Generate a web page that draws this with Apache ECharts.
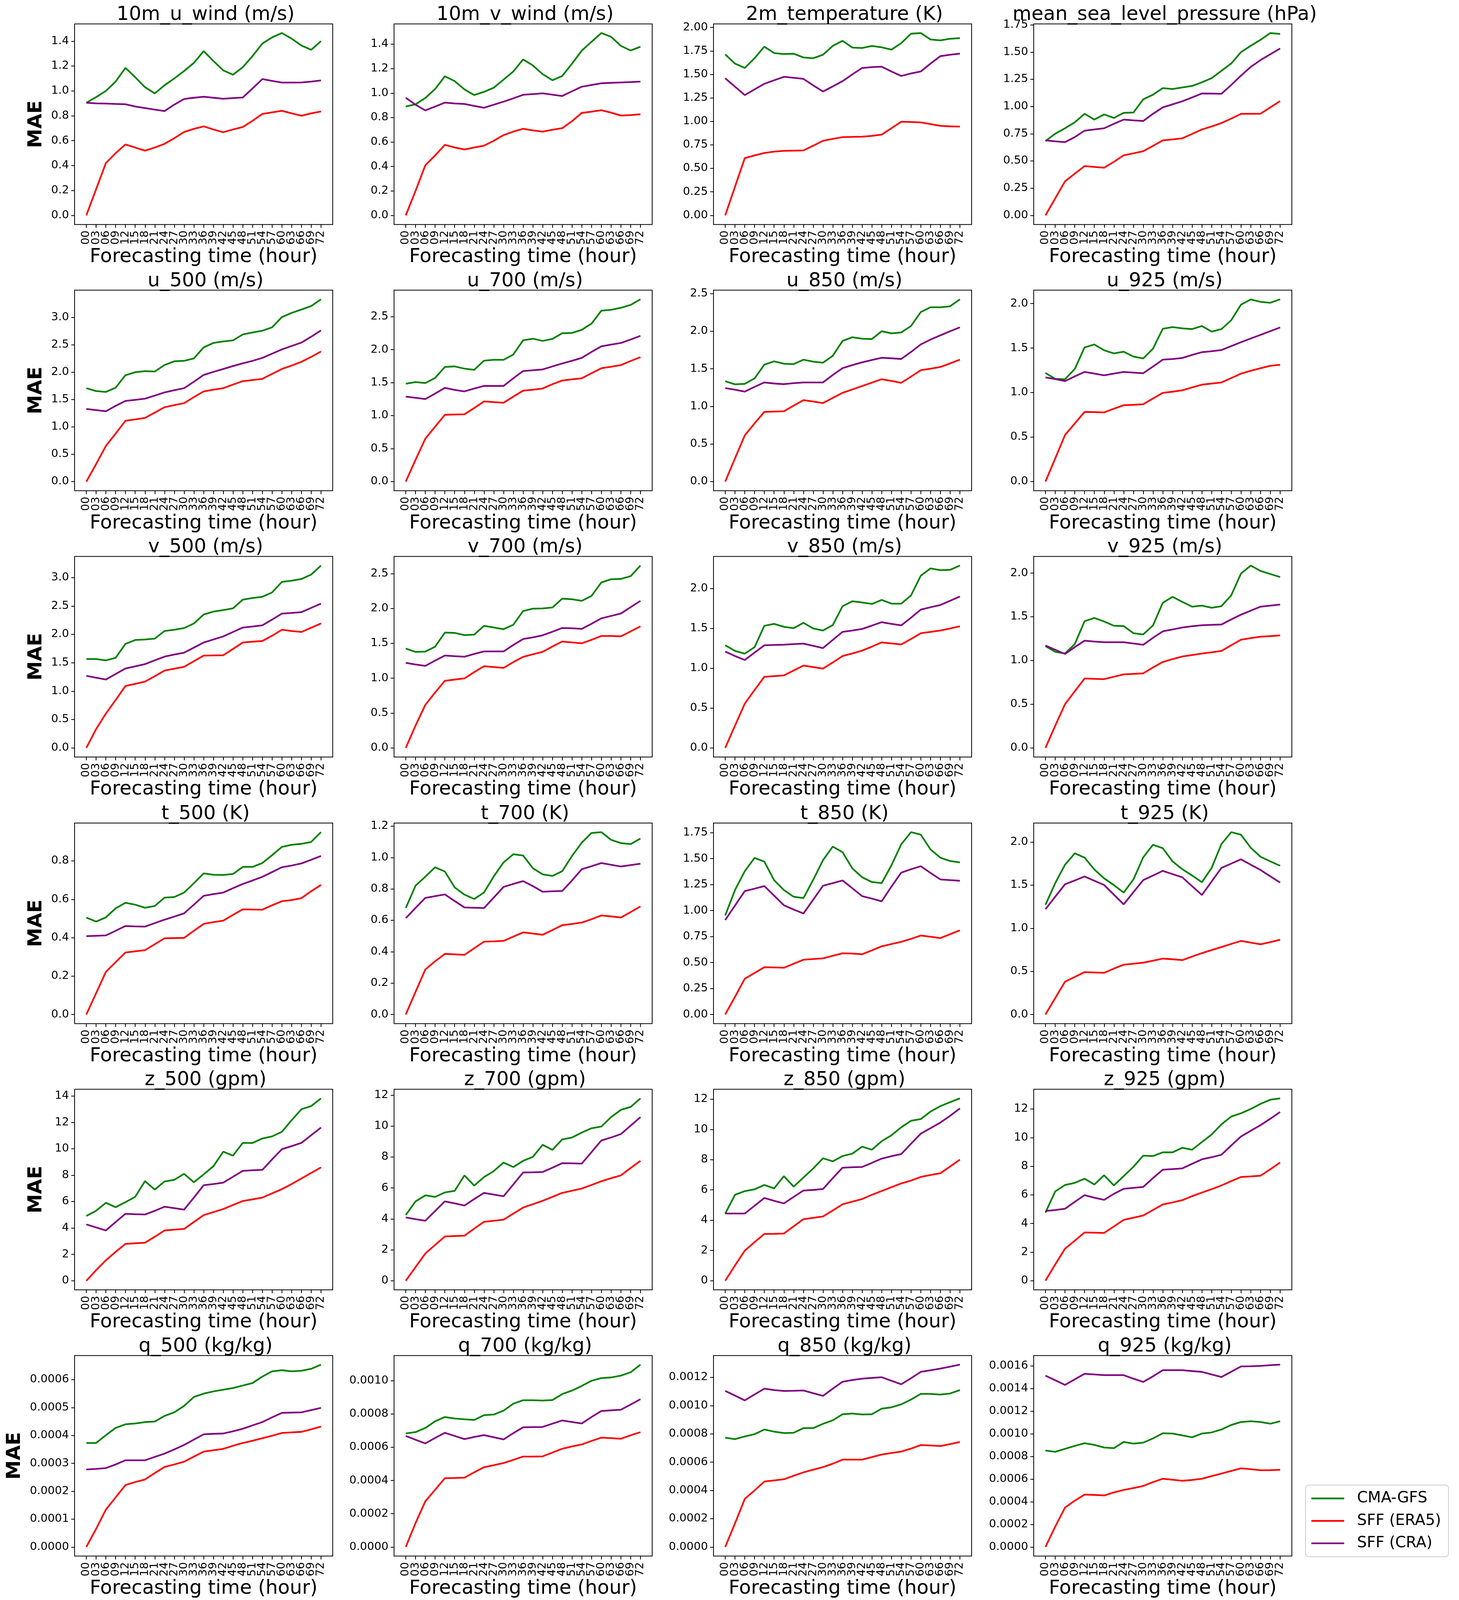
<!DOCTYPE html>
<html><head><meta charset="utf-8">
<script src="https://cdn.jsdelivr.net/npm/echarts@6/dist/echarts.min.js"></script>
<style>html,body{margin:0;padding:0;background:#fff;overflow:hidden}#c{width:100vw;height:100vh}</style>
</head><body><div id="c"></div><script>
const hours = ['00','03','06','09','12','15','18','21','24','27','30','33','36','39','42','45','48','51','54','57','60','63','66','69','72'];
const seriesNames = ['CMA-GFS','SFF (ERA5)','SFF (CRA)'];
const panelTitles = ['10m_u_wind (m/s)','10m_v_wind (m/s)','2m_temperature (K)','mean_sea_level_pressure (hPa)',
 'u_500 (m/s)','u_700 (m/s)','u_850 (m/s)','u_925 (m/s)',
 'v_500 (m/s)','v_700 (m/s)','v_850 (m/s)','v_925 (m/s)',
 't_500 (K)','t_700 (K)','t_850 (K)','t_925 (K)',
 'z_500 (gpm)','z_700 (gpm)','z_850 (gpm)','z_925 (gpm)',
 'q_500 (kg/kg)','q_700 (kg/kg)','q_850 (kg/kg)','q_925 (kg/kg)'];

const u10_cma = [0.905,0.95,1.0,1.075,1.185,1.11,1.03,0.98,1.045,1.10,1.16,1.225,1.32,1.24,1.165,1.13,1.19,1.28,1.38,1.43,1.465,1.42,1.365,1.33,1.40];
const u10_era5 = [0,0.21,0.42,0.50,0.57,0.545,0.52,0.545,0.575,0.62,0.67,0.695,0.715,0.69,0.668,0.69,0.71,0.76,0.815,0.828,0.84,0.82,0.80,0.82,0.835];
const u10_cra = [0.905,0.90,0.898,0.895,0.893,0.875,0.862,0.85,0.838,0.89,0.935,0.945,0.953,0.945,0.937,0.942,0.947,1.02,1.095,1.08,1.067,1.067,1.068,1.075,1.084];

const v10_cma = [0.89,0.908,0.96,1.033,1.137,1.098,1.03,0.984,1.01,1.044,1.11,1.177,1.275,1.226,1.155,1.105,1.14,1.24,1.347,1.42,1.491,1.46,1.386,1.348,1.379];
const v10_era5 = [0,0.2,0.41,0.49,0.577,0.555,0.539,0.555,0.57,0.61,0.656,0.685,0.708,0.695,0.684,0.70,0.713,0.77,0.838,0.848,0.86,0.84,0.816,0.82,0.827];
const v10_cra = [0.962,0.905,0.858,0.89,0.922,0.915,0.911,0.895,0.88,0.905,0.93,0.957,0.986,0.992,0.998,0.987,0.976,1.015,1.052,1.066,1.08,1.084,1.087,1.09,1.094];

const t2m_cma = [1.712,1.615,1.568,1.672,1.795,1.727,1.716,1.72,1.68,1.672,1.709,1.803,1.857,1.785,1.781,1.803,1.788,1.763,1.832,1.933,1.94,1.871,1.862,1.879,1.886];
const t2m_era5 = [0,0.305,0.609,0.638,0.664,0.678,0.687,0.689,0.691,0.741,0.794,0.814,0.832,0.835,0.837,0.846,0.859,0.927,0.996,0.993,0.989,0.971,0.953,0.947,0.944];
const t2m_cra = [1.459,1.369,1.28,1.34,1.40,1.437,1.474,1.464,1.452,1.383,1.318,1.372,1.428,1.50,1.568,1.577,1.582,1.531,1.483,1.51,1.531,1.615,1.694,1.709,1.721];

const msl_cma = [0.683,0.75,0.80,0.855,0.933,0.88,0.927,0.895,0.942,0.945,1.066,1.108,1.169,1.161,1.175,1.189,1.222,1.261,1.328,1.395,1.50,1.558,1.613,1.675,1.667];
const msl_era5 = [0,0.156,0.3125,0.383,0.453,0.445,0.4375,0.492,0.552,0.57,0.589,0.639,0.689,0.698,0.708,0.748,0.789,0.817,0.848,0.889,0.933,0.933,0.934,0.992,1.05];
const msl_cra = [0.689,0.68,0.673,0.719,0.778,0.789,0.80,0.841,0.88,0.873,0.867,0.933,0.992,1.02,1.048,1.083,1.12,1.119,1.117,1.198,1.284,1.364,1.427,1.48,1.533];

const u500_cma = [1.708,1.655,1.64,1.717,1.944,2.0,2.019,2.013,2.131,2.199,2.208,2.252,2.454,2.535,2.562,2.581,2.69,2.727,2.758,2.82,3.007,3.084,3.146,3.209,3.333];
const u500_era5 = [0,0.32,0.652,0.879,1.112,1.137,1.165,1.261,1.36,1.398,1.435,1.544,1.649,1.68,1.708,1.774,1.836,1.857,1.879,1.969,2.059,2.121,2.19,2.28,2.379];
const u500_cra = [1.329,1.308,1.286,1.385,1.475,1.494,1.516,1.572,1.631,1.671,1.708,1.826,1.95,2.006,2.059,2.112,2.162,2.208,2.261,2.339,2.416,2.479,2.541,2.649,2.764];

const u700_cma = [1.483,1.509,1.494,1.571,1.738,1.746,1.712,1.694,1.833,1.846,1.846,1.926,2.142,2.166,2.132,2.163,2.248,2.253,2.30,2.395,2.59,2.603,2.634,2.678,2.763];
const u700_era5 = [0,0.33,0.651,0.832,1.012,1.017,1.02,1.115,1.215,1.205,1.195,1.288,1.378,1.393,1.411,1.476,1.532,1.55,1.566,1.643,1.718,1.741,1.766,1.828,1.887];
const u700_cra = [1.288,1.27,1.251,1.334,1.421,1.39,1.367,1.411,1.45,1.45,1.45,1.566,1.676,1.687,1.70,1.746,1.79,1.831,1.875,1.965,2.05,2.076,2.101,2.153,2.209];

const u850_cma = [1.335,1.294,1.301,1.373,1.556,1.6,1.568,1.563,1.622,1.595,1.581,1.674,1.871,1.92,1.90,1.896,2.0,1.972,1.984,2.07,2.255,2.319,2.319,2.332,2.425];
const u850_era5 = [0,0.31,0.615,0.774,0.927,0.932,0.936,1.011,1.083,1.065,1.045,1.113,1.181,1.226,1.271,1.317,1.362,1.339,1.314,1.396,1.482,1.502,1.525,1.572,1.622];
const u850_cra = [1.244,1.222,1.197,1.26,1.319,1.305,1.296,1.31,1.319,1.319,1.319,1.418,1.509,1.55,1.586,1.617,1.647,1.64,1.631,1.724,1.825,1.889,1.945,2.0,2.052];

const u925_cma = [1.22,1.154,1.15,1.265,1.507,1.541,1.475,1.44,1.459,1.404,1.383,1.494,1.717,1.736,1.721,1.713,1.748,1.685,1.713,1.813,1.988,2.046,2.019,2.009,2.048];
const u925_era5 = [0,0.26,0.523,0.653,0.783,0.781,0.777,0.819,0.858,0.863,0.869,0.934,0.997,1.01,1.026,1.058,1.089,1.102,1.114,1.163,1.213,1.245,1.274,1.301,1.312];
const u925_cra = [1.171,1.152,1.129,1.182,1.232,1.213,1.194,1.213,1.232,1.224,1.217,1.293,1.37,1.377,1.389,1.423,1.454,1.465,1.478,1.522,1.566,1.608,1.648,1.69,1.732];

const v500_cma = [1.566,1.566,1.542,1.587,1.832,1.901,1.91,1.925,2.06,2.081,2.111,2.192,2.35,2.401,2.428,2.458,2.611,2.641,2.662,2.739,2.925,2.946,2.976,3.054,3.213];
const v500_era5 = [0,0.33,0.605,0.844,1.09,1.129,1.168,1.263,1.362,1.395,1.428,1.527,1.626,1.629,1.632,1.743,1.856,1.871,1.883,1.976,2.081,2.06,2.042,2.117,2.192];
const v500_cra = [1.269,1.236,1.204,1.302,1.398,1.437,1.476,1.542,1.608,1.644,1.677,1.766,1.856,1.91,1.964,2.042,2.12,2.138,2.159,2.26,2.365,2.377,2.392,2.467,2.542];

const v700_cma = [1.426,1.377,1.382,1.452,1.655,1.65,1.618,1.626,1.752,1.728,1.703,1.767,1.964,1.998,2.001,2.015,2.142,2.133,2.11,2.181,2.374,2.42,2.425,2.464,2.617];
const v700_era5 = [0,0.32,0.617,0.794,0.963,0.98,0.997,1.087,1.172,1.16,1.148,1.231,1.306,1.343,1.379,1.455,1.526,1.513,1.501,1.55,1.606,1.606,1.601,1.672,1.745];
const v700_cra = [1.221,1.197,1.177,1.253,1.326,1.316,1.309,1.348,1.384,1.384,1.384,1.477,1.562,1.586,1.616,1.667,1.721,1.716,1.708,1.781,1.859,1.894,1.928,2.02,2.11];

const v850_cma = [1.289,1.218,1.184,1.265,1.534,1.558,1.521,1.504,1.571,1.50,1.475,1.543,1.78,1.842,1.827,1.808,1.859,1.812,1.812,1.915,2.163,2.255,2.233,2.237,2.291];
const v850_era5 = [0,0.28,0.556,0.727,0.893,0.902,0.91,0.972,1.034,1.015,0.996,1.073,1.154,1.186,1.222,1.272,1.325,1.312,1.299,1.368,1.44,1.457,1.475,1.50,1.528];
const v850_cra = [1.21,1.154,1.105,1.197,1.289,1.293,1.297,1.304,1.31,1.282,1.254,1.357,1.457,1.475,1.494,1.536,1.579,1.558,1.539,1.635,1.737,1.767,1.795,1.848,1.902];

const v925_cma = [1.164,1.10,1.081,1.188,1.45,1.487,1.447,1.398,1.394,1.312,1.299,1.402,1.661,1.729,1.671,1.616,1.628,1.604,1.622,1.746,1.996,2.087,2.025,1.99,1.955];
const v925_era5 = [0,0.253,0.50,0.648,0.794,0.79,0.787,0.814,0.841,0.847,0.853,0.921,0.983,1.016,1.046,1.063,1.079,1.094,1.11,1.174,1.238,1.256,1.273,1.279,1.287];
const v925_cra = [1.172,1.123,1.075,1.153,1.227,1.217,1.209,1.209,1.209,1.195,1.18,1.26,1.334,1.355,1.378,1.392,1.404,1.408,1.412,1.47,1.525,1.571,1.616,1.628,1.641];

const t500_cma = [0.505,0.484,0.506,0.553,0.582,0.572,0.556,0.565,0.609,0.612,0.635,0.684,0.735,0.728,0.727,0.732,0.769,0.769,0.789,0.83,0.873,0.884,0.889,0.899,0.95];
const t500_era5 = [0,0.111,0.222,0.273,0.323,0.329,0.335,0.366,0.397,0.398,0.399,0.436,0.472,0.481,0.489,0.519,0.548,0.547,0.546,0.569,0.59,0.596,0.606,0.642,0.675];
const t500_cra = [0.408,0.41,0.412,0.436,0.461,0.459,0.458,0.476,0.494,0.51,0.527,0.572,0.618,0.627,0.635,0.658,0.68,0.698,0.717,0.742,0.767,0.776,0.787,0.806,0.826];

const t700_cma = [0.678,0.821,0.878,0.938,0.911,0.81,0.764,0.736,0.777,0.88,0.969,1.021,1.013,0.932,0.893,0.883,0.913,1.01,1.095,1.157,1.162,1.113,1.092,1.086,1.121];
const t700_era5 = [0,0.144,0.287,0.339,0.386,0.383,0.38,0.422,0.464,0.466,0.469,0.496,0.523,0.516,0.508,0.538,0.569,0.577,0.586,0.607,0.631,0.625,0.618,0.653,0.689];
const t700_cra = [0.614,0.679,0.743,0.754,0.765,0.723,0.682,0.68,0.678,0.745,0.813,0.832,0.85,0.818,0.782,0.785,0.787,0.854,0.926,0.945,0.965,0.954,0.943,0.952,0.961];

const t850_cma = [0.953,1.198,1.379,1.507,1.471,1.293,1.198,1.133,1.12,1.296,1.485,1.616,1.562,1.406,1.321,1.275,1.264,1.436,1.637,1.755,1.731,1.588,1.509,1.477,1.463];
const t850_era5 = [0,0.17,0.344,0.399,0.455,0.453,0.45,0.488,0.527,0.534,0.54,0.565,0.589,0.586,0.58,0.617,0.656,0.678,0.699,0.728,0.76,0.748,0.735,0.773,0.81];
const t850_cra = [0.909,1.048,1.188,1.211,1.236,1.144,1.051,1.01,0.972,1.105,1.239,1.264,1.29,1.215,1.139,1.115,1.089,1.231,1.365,1.398,1.427,1.362,1.30,1.293,1.287];

const t925_cma = [1.271,1.523,1.736,1.868,1.819,1.681,1.578,1.50,1.413,1.566,1.822,1.968,1.927,1.775,1.684,1.611,1.533,1.70,1.976,2.114,2.084,1.933,1.828,1.775,1.724];
const t925_era5 = [0,0.19,0.38,0.435,0.491,0.487,0.483,0.532,0.577,0.589,0.601,0.624,0.648,0.64,0.63,0.672,0.711,0.747,0.782,0.818,0.853,0.833,0.814,0.839,0.867];
const t925_cra = [1.221,1.365,1.509,1.554,1.60,1.55,1.501,1.389,1.277,1.418,1.558,1.611,1.665,1.627,1.59,1.487,1.385,1.542,1.70,1.749,1.799,1.736,1.675,1.602,1.529];

const z500_cma = [4.91,5.30,5.91,5.57,5.95,6.36,7.55,6.91,7.52,7.65,8.10,7.46,8.06,8.68,9.78,9.48,10.45,10.44,10.78,10.94,11.29,12.17,13.0,13.24,13.82];
const z500_era5 = [0,0.8,1.55,2.19,2.79,2.84,2.88,3.33,3.81,3.87,3.93,4.45,4.97,5.20,5.43,5.74,6.04,6.17,6.30,6.62,6.94,7.33,7.75,8.17,8.59];
const z500_cra = [4.27,4.04,3.81,4.45,5.07,5.04,5.02,5.30,5.61,5.50,5.39,6.30,7.24,7.33,7.43,7.88,8.33,8.37,8.40,9.20,9.97,10.20,10.45,11.03,11.61];

const z700_cma = [4.25,5.13,5.52,5.42,5.71,5.81,6.81,6.15,6.70,7.09,7.64,7.35,7.75,8.01,8.79,8.46,9.14,9.26,9.58,9.86,9.97,10.58,11.05,11.24,11.79];
const z700_era5 = [0,0.88,1.76,2.31,2.86,2.89,2.91,3.37,3.81,3.88,3.95,4.34,4.73,4.95,5.17,5.42,5.68,5.82,5.96,6.19,6.43,6.63,6.81,7.29,7.75];
const z700_cra = [4.09,3.98,3.88,4.51,5.13,5.0,4.86,5.28,5.68,5.57,5.46,6.23,7.0,7.01,7.03,7.31,7.60,7.59,7.57,8.32,9.07,9.26,9.48,10.03,10.58];

const z850_cma = [4.44,5.68,5.92,6.04,6.33,6.10,6.91,6.22,6.82,7.42,8.09,7.89,8.24,8.40,8.86,8.66,9.22,9.61,10.14,10.57,10.68,11.18,11.54,11.80,12.05];
const z850_era5 = [0,1.01,1.99,2.55,3.09,3.10,3.12,3.60,4.07,4.16,4.25,4.64,5.05,5.23,5.40,5.68,5.93,6.18,6.43,6.62,6.86,6.99,7.10,7.55,8.0];
const z850_cra = [4.44,4.44,4.44,4.95,5.47,5.28,5.11,5.54,5.96,6.0,6.06,6.78,7.47,7.50,7.52,7.79,8.07,8.23,8.37,9.05,9.72,10.08,10.45,10.90,11.39];

const z925_cma = [4.76,6.24,6.69,6.84,7.13,6.72,7.37,6.66,7.31,7.96,8.74,8.71,8.97,8.97,9.29,9.15,9.69,10.22,10.93,11.47,11.70,12.0,12.36,12.65,12.74];
const z925_era5 = [0,1.14,2.24,2.80,3.37,3.36,3.34,3.79,4.25,4.40,4.56,4.94,5.33,5.47,5.63,5.91,6.16,6.40,6.66,6.96,7.25,7.29,7.34,7.79,8.26];
const z925_cra = [4.87,4.94,5.03,5.51,5.98,5.80,5.65,6.07,6.42,6.49,6.55,7.17,7.76,7.80,7.85,8.17,8.48,8.63,8.80,9.45,10.08,10.48,10.87,11.32,11.79];

const q500_cma = [3.73e-4,3.73e-4,4.01e-4,4.27e-4,4.40e-4,4.43e-4,4.48e-4,4.50e-4,4.70e-4,4.83e-4,5.06e-4,5.38e-4,5.50e-4,5.58e-4,5.64e-4,5.70e-4,5.79e-4,5.88e-4,6.11e-4,6.30e-4,6.34e-4,6.30e-4,6.32e-4,6.39e-4,6.54e-4];
const q500_era5 = [0,0.65e-4,1.34e-4,1.78e-4,2.22e-4,2.33e-4,2.42e-4,2.65e-4,2.87e-4,2.96e-4,3.06e-4,3.24e-4,3.42e-4,3.47e-4,3.52e-4,3.63e-4,3.73e-4,3.81e-4,3.90e-4,3.99e-4,4.09e-4,4.11e-4,4.13e-4,4.22e-4,4.32e-4];
const q500_cra = [2.78e-4,2.80e-4,2.83e-4,2.96e-4,3.11e-4,3.11e-4,3.11e-4,3.23e-4,3.35e-4,3.50e-4,3.66e-4,3.85e-4,4.04e-4,4.06e-4,4.07e-4,4.15e-4,4.24e-4,4.36e-4,4.48e-4,4.65e-4,4.81e-4,4.82e-4,4.83e-4,4.91e-4,4.99e-4];

const q700_cma = [6.83e-4,6.91e-4,7.16e-4,7.56e-4,7.82e-4,7.73e-4,7.68e-4,7.64e-4,7.93e-4,7.97e-4,8.20e-4,8.62e-4,8.83e-4,8.83e-4,8.81e-4,8.84e-4,9.20e-4,9.41e-4,9.69e-4,10.00e-4,10.16e-4,10.20e-4,10.31e-4,10.51e-4,10.97e-4];
const q700_era5 = [0,1.44e-4,2.75e-4,3.44e-4,4.14e-4,4.15e-4,4.17e-4,4.49e-4,4.80e-4,4.92e-4,5.05e-4,5.24e-4,5.44e-4,5.44e-4,5.45e-4,5.68e-4,5.91e-4,6.05e-4,6.17e-4,6.38e-4,6.58e-4,6.55e-4,6.51e-4,6.72e-4,6.91e-4];
const q700_cra = [6.68e-4,6.45e-4,6.23e-4,6.56e-4,6.87e-4,6.68e-4,6.49e-4,6.62e-4,6.73e-4,6.60e-4,6.47e-4,6.85e-4,7.20e-4,7.21e-4,7.22e-4,7.42e-4,7.61e-4,7.52e-4,7.43e-4,7.82e-4,8.18e-4,8.22e-4,8.26e-4,8.57e-4,8.89e-4];

const q850_cma = [7.73e-4,7.63e-4,7.82e-4,7.98e-4,8.31e-4,8.16e-4,8.06e-4,8.08e-4,8.41e-4,8.41e-4,8.71e-4,8.96e-4,9.39e-4,9.44e-4,9.37e-4,9.39e-4,9.79e-4,9.88e-4,10.09e-4,10.43e-4,10.83e-4,10.83e-4,10.78e-4,10.86e-4,11.10e-4];
const q850_era5 = [0,1.67e-4,3.40e-4,4.00e-4,4.63e-4,4.71e-4,4.79e-4,5.04e-4,5.28e-4,5.47e-4,5.65e-4,5.89e-4,6.18e-4,6.18e-4,6.18e-4,6.36e-4,6.54e-4,6.65e-4,6.75e-4,6.96e-4,7.21e-4,7.18e-4,7.14e-4,7.28e-4,7.43e-4];
const q850_cra = [11.04e-4,10.71e-4,10.37e-4,10.79e-4,11.20e-4,11.10e-4,11.04e-4,11.05e-4,11.07e-4,10.88e-4,10.69e-4,11.20e-4,11.69e-4,11.81e-4,11.91e-4,11.96e-4,12.01e-4,11.76e-4,11.51e-4,11.94e-4,12.39e-4,12.50e-4,12.62e-4,12.76e-4,12.90e-4];

const q925_cma = [8.52e-4,8.41e-4,8.67e-4,8.93e-4,9.17e-4,9.02e-4,8.79e-4,8.73e-4,9.28e-4,9.13e-4,9.22e-4,9.59e-4,10.05e-4,10.02e-4,9.86e-4,9.69e-4,10.02e-4,10.12e-4,10.38e-4,10.78e-4,11.04e-4,11.11e-4,11.04e-4,10.89e-4,11.11e-4];
const q925_era5 = [0,1.80e-4,3.48e-4,4.09e-4,4.63e-4,4.60e-4,4.55e-4,4.82e-4,5.04e-4,5.21e-4,5.39e-4,5.73e-4,6.03e-4,5.94e-4,5.85e-4,5.92e-4,6.03e-4,6.26e-4,6.49e-4,6.72e-4,6.95e-4,6.87e-4,6.78e-4,6.79e-4,6.82e-4];
const q925_cra = [15.14e-4,14.73e-4,14.32e-4,14.81e-4,15.30e-4,15.24e-4,15.18e-4,15.18e-4,15.18e-4,14.87e-4,14.58e-4,15.08e-4,15.62e-4,15.62e-4,15.62e-4,15.54e-4,15.47e-4,15.24e-4,15.02e-4,15.48e-4,15.95e-4,15.97e-4,16.00e-4,16.06e-4,16.11e-4];

const yTickSteps = [0.2,0.2,0.25,0.25, 0.5,0.5,0.5,0.5, 0.5,0.5,0.5,0.5, 0.2,0.2,0.25,0.5, 2,2,2,2, 0.0001,0.0002,0.0002,0.0002];
const yTickDecimals = [1,1,2,2, 1,1,1,1, 1,1,1,1, 1,1,2,1, 0,0,0,0, 4,4,4,4];

const panelData = [
 [u10_cma,u10_era5,u10_cra],[v10_cma,v10_era5,v10_cra],[t2m_cma,t2m_era5,t2m_cra],[msl_cma,msl_era5,msl_cra],
 [u500_cma,u500_era5,u500_cra],[u700_cma,u700_era5,u700_cra],[u850_cma,u850_era5,u850_cra],[u925_cma,u925_era5,u925_cra],
 [v500_cma,v500_era5,v500_cra],[v700_cma,v700_era5,v700_cra],[v850_cma,v850_era5,v850_cra],[v925_cma,v925_era5,v925_cra],
 [t500_cma,t500_era5,t500_cra],[t700_cma,t700_era5,t700_cra],[t850_cma,t850_era5,t850_cra],[t925_cma,t925_era5,t925_cra],
 [z500_cma,z500_era5,z500_cra],[z700_cma,z700_era5,z700_cra],[z850_cma,z850_era5,z850_cra],[z925_cma,z925_era5,z925_cra],
 [q500_cma,q500_era5,q500_cra],[q700_cma,q700_era5,q700_cra],[q850_cma,q850_era5,q850_cra],[q925_cma,q925_era5,q925_cra]
];

// ---- layout / style (designed for 3736 x 4483, scaled to the actual viewport) ----
const FONT = 'DejaVu Sans';
const COLORS = ['green','red','purple'];
const vw = window.innerWidth || 3736, vh = window.innerHeight || 4483;
const sx = vw/3736, sy = vh/4483, sf = Math.sqrt(sx*sy);
const X = v=>v*sx, Y = v=>v*sy, F = v=>v*sf;
const COL_LEFT = [191,1009,1827,2647];
const ROW_TOP = [67,813,1559,2306,3052,3798];
const GW = 661, GH = 562;
const XMIN = -1.2, XMAX = 25.2;

const chart = echarts.init(document.getElementById('c'), null, {renderer:'canvas', width:vw, height:vh});
const grids=[], xAxes=[], yAxes=[], series=[], titles=[];
const xTickIdx = hours.map((h,i)=>i);
// blank guard labels at the axis ends keep the first/last real labels from being dropped
const xLabelVals = [XMIN].concat(xTickIdx, [XMAX]);

panelData.forEach((sets,k)=>{
  const r = Math.floor(k/4), c = k%4;
  const left = COL_LEFT[c], top = ROW_TOP[r];
  grids.push({left:X(left), top:Y(top), width:X(GW), height:Y(GH), show:true, borderColor:'#000', borderWidth:2, backgroundColor:'transparent', containLabel:false});
  let lo = Infinity, hi = -Infinity;
  sets.forEach(a=>a.forEach(v=>{lo=Math.min(lo,v);hi=Math.max(hi,v);}));
  const span = hi-lo;
  const ymin = lo-0.05*span, ymax = hi+0.05*span;
  const step = yTickSteps[k], dec = yTickDecimals[k];
  const yt = [];
  for (let n=Math.ceil(ymin/step-1e-9); n*step<=ymax+1e-12; n++) yt.push(+(n*step).toFixed(8));
  titles.push({text:panelTitles[k], left:X(left+GW/2), top:Y(top-58), textAlign:'center',
    textStyle:{fontFamily:FONT,fontSize:F(52),fontWeight:'normal',color:'#000'}});
  xAxes.push({type:'value', gridIndex:k, min:XMIN, max:XMAX, position:'bottom',
    name:'Forecasting time (hour)', nameLocation:'middle', nameGap:Y(64), nameMoveOverlap:false,
    nameTextStyle:{fontFamily:FONT,fontSize:F(52),color:'#000'},
    axisLine:{show:false, onZero:false}, splitLine:{show:false},
    axisTick:{show:true, length:F(9), lineStyle:{color:'#000',width:2}, customValues:xTickIdx},
    axisLabel:{show:true, rotate:90, margin:F(16), fontFamily:FONT, fontSize:F(30), lineHeight:X(20), color:'#000',
      showMinLabel:true, showMaxLabel:true, hideOverlap:false,
      customValues:xLabelVals, formatter:(v)=>{const i=Math.round(v); return (Math.abs(v-i)<1e-6 && hours[i]) ? hours[i] : ' ';}}
  });
  yAxes.push({type:'value', gridIndex:k, min:ymin, max:ymax, position:'left',
    name: c===0 ? 'MAE' : '', nameLocation:'middle', nameRotate:90, nameGap: X(r===5 ? 128 : 73), nameMoveOverlap:false,
    nameTextStyle:{fontFamily:FONT,fontSize:F(52),fontWeight:'bold',color:'#000'},
    axisLine:{show:false, onZero:false}, splitLine:{show:false},
    axisTick:{show:true, length:F(9), lineStyle:{color:'#000',width:2}, customValues:yt},
    axisLabel:{show:true, margin:F(15), fontFamily:FONT, fontSize:F(30), color:'#000',
      showMinLabel:true, showMaxLabel:true, hideOverlap:false,
      customValues:yt, formatter:(v)=>Number(v).toFixed(dec)}
  });
  sets.forEach((arr,j)=>{
    series.push({type:'line', name:seriesNames[j], xAxisIndex:k, yAxisIndex:k,
      data:arr.map((v,i)=>[i,v]), symbol:'none', silent:true,
      lineStyle:{width:F(4.5),color:COLORS[j]}, itemStyle:{color:COLORS[j]}});
  });
});

chart.setOption({
  animation:false,
  backgroundColor:'#fff',
  title:titles,
  grid:grids, xAxis:xAxes, yAxis:yAxes, series,
  legend:{data:seriesNames, orient:'vertical', left:X(3343), top:Y(4161),
    padding:[Y(16),X(19),Y(16),X(15)], itemWidth:X(84), itemHeight:F(4.5), itemGap:Y(20), icon:'rect',
    backgroundColor:'rgba(255,255,255,0.8)', borderColor:'#cccccc', borderWidth:2, borderRadius:8,
    textStyle:{fontFamily:FONT,fontSize:F(41),lineHeight:F(41),color:'#000',padding:[0,0,0,X(28)]}}
});
</script></body></html>
